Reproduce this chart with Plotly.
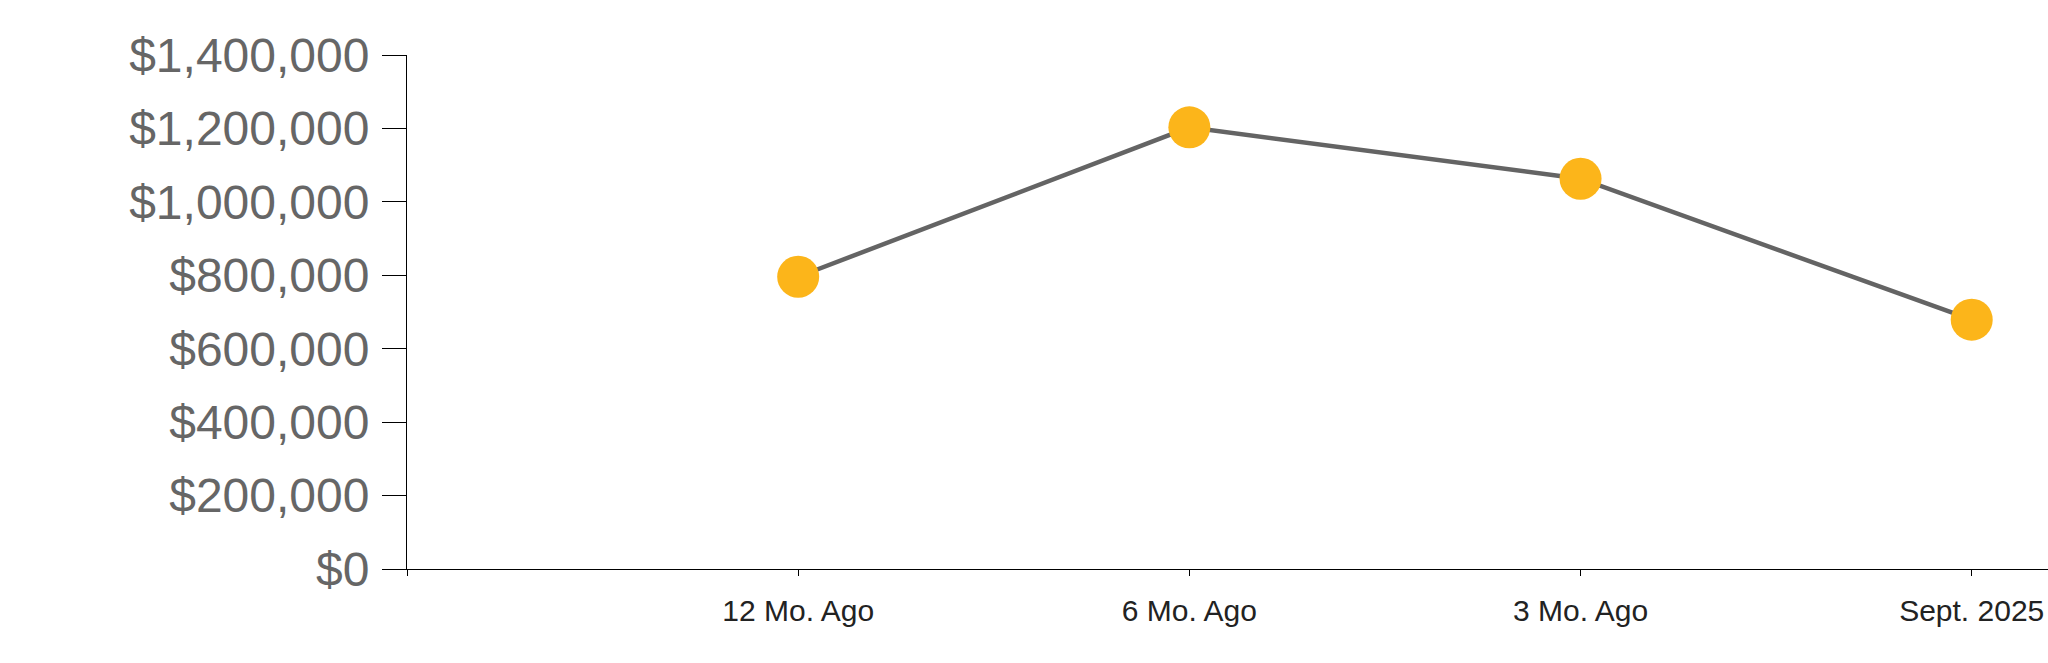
import plotly.graph_objects as go

categories = ["12 Mo. Ago", "6 Mo. Ago", "3 Mo. Ago", "Sept. 2025"]
values = [796000, 1203000, 1063000, 679000]
y_ticks = [0, 200000, 400000, 600000, 800000, 1000000, 1200000, 1400000]
y_tick_labels = ["$0", "$200,000", "$400,000", "$600,000", "$800,000",
                 "$1,000,000", "$1,200,000", "$1,400,000"]

x_pos = list(range(len(categories)))

fig = go.Figure()
fig.add_trace(go.Scatter(
    x=x_pos, y=values, mode="lines+markers",
    line=dict(color="#646464", width=4.5),
    marker=dict(color="#FCB51A", size=42, line=dict(width=0)),
    cliponaxis=False, hoverinfo="skip",
))

font_family = "Liberation Sans, Arial, sans-serif"
fig.update_layout(
    width=2048, height=663,
    margin=dict(l=407, r=0, t=55, b=94, pad=0, autoexpand=False),
    paper_bgcolor="white", plot_bgcolor="white",
    showlegend=False,
    xaxis=dict(
        range=[-1, 3.195], tickmode="array",
        tickvals=[-1] + x_pos, ticktext=[""] + categories,
        showgrid=False, zeroline=False, automargin=False,
        showline=True, linecolor="black", linewidth=1,
        ticks="outside", ticklen=6, tickcolor="black", tickwidth=1,
        ticklabelstandoff=9,
        tickfont=dict(family=font_family, size=30, color="#222222"),
        fixedrange=True,
    ),
    yaxis=dict(
        range=[0, 1400000], tickmode="array",
        tickvals=y_ticks, ticktext=y_tick_labels,
        showgrid=False, zeroline=False, automargin=False,
        showline=True, linecolor="black", linewidth=1,
        ticks="outside", ticklen=24, tickcolor="black", tickwidth=1,
        ticklabelstandoff=3,
        tickfont=dict(family=font_family, size=48, color="#666666"),
        fixedrange=True,
    ),
)

fig.write_html(
    "out.html",
    config={"displayModeBar": False},
    post_script="document.body.style.margin='0';document.body.style.overflow='hidden';",
)
